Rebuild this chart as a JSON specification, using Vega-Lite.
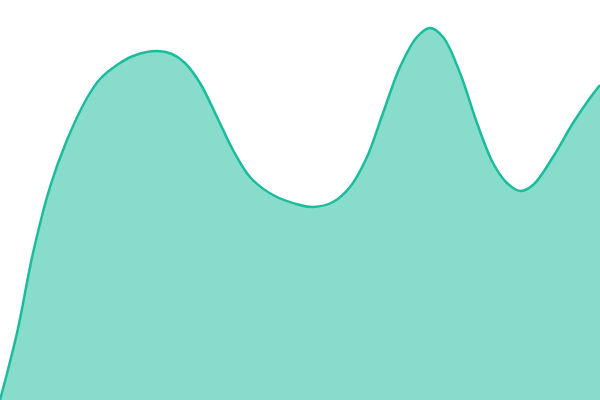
{
  "$schema": "https://vega.github.io/schema/vega-lite/v6.json",
  "width": 600,
  "height": 400,
  "autosize": "none",
  "padding": 0,
  "config": {"view": {"stroke": null}},
  "data": {
    "values": [
      {"x": 0, "y": 0},
      {"x": 17, "y": 67},
      {"x": 33, "y": 147},
      {"x": 50, "y": 213},
      {"x": 67, "y": 260},
      {"x": 87, "y": 302},
      {"x": 100, "y": 321},
      {"x": 117, "y": 335},
      {"x": 133, "y": 344},
      {"x": 157, "y": 349},
      {"x": 172, "y": 346},
      {"x": 185, "y": 337},
      {"x": 200, "y": 317},
      {"x": 217, "y": 283},
      {"x": 233, "y": 250},
      {"x": 250, "y": 223},
      {"x": 273, "y": 205},
      {"x": 300, "y": 195},
      {"x": 313, "y": 193},
      {"x": 333, "y": 198},
      {"x": 350, "y": 213},
      {"x": 367, "y": 243},
      {"x": 383, "y": 287},
      {"x": 400, "y": 333},
      {"x": 417, "y": 363},
      {"x": 430, "y": 372},
      {"x": 443, "y": 363},
      {"x": 460, "y": 327},
      {"x": 477, "y": 277},
      {"x": 493, "y": 237},
      {"x": 507, "y": 217},
      {"x": 520, "y": 209},
      {"x": 533, "y": 215},
      {"x": 553, "y": 243},
      {"x": 573, "y": 277},
      {"x": 590, "y": 302},
      {"x": 600, "y": 315}
    ]
  },
  "encoding": {
    "x": {"field": "x", "type": "quantitative", "axis": null, "scale": {"domain": [0, 600], "nice": false, "zero": false}},
    "y": {"field": "y", "type": "quantitative", "axis": null, "scale": {"domain": [0, 400], "nice": false}}
  },
  "layer": [
    {"mark": {"type": "area", "interpolate": "catmull-rom", "color": "#1abc9c", "opacity": 0.52}},
    {"mark": {"type": "line", "interpolate": "catmull-rom", "color": "#1abc9c", "strokeWidth": 2.5}}
  ]
}
